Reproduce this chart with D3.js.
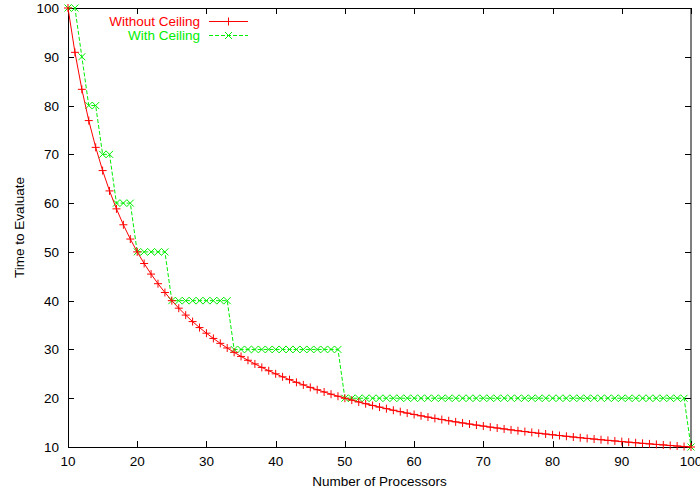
<!DOCTYPE html>
<html>
<head>
<meta charset="utf-8">
<script src="https://cdn.jsdelivr.net/npm/d3@7"></script>
<style>
  html, body { margin: 0; padding: 0; background: #fff; }
  svg { display: block; }
  text { font-family: "Liberation Sans", Arial, sans-serif; font-size: 13.5px; }
</style>
</head>
<body>
<svg id="chart" width="700" height="492"></svg>
<script>
// Number of processors (x values)
const processors = [10,11,12,13,14,15,16,17,18,19,20,21,22,23,24,25,26,27,28,29,30,
  31,32,33,34,35,36,37,38,39,40,41,42,43,44,45,46,47,48,49,50,51,52,53,54,55,56,57,58,59,60,
  61,62,63,64,65,66,67,68,69,70,71,72,73,74,75,76,77,78,79,80,81,82,83,84,85,86,87,88,89,90,
  91,92,93,94,95,96,97,98,99,100];

// Evaluation time without ceiling
const withoutCeiling = [100,90.91,83.33,76.92,71.43,66.67,62.5,58.82,55.56,52.63,50,
  47.62,45.45,43.48,41.67,40,38.46,37.04,35.71,34.48,33.33,
  32.26,31.25,30.3,29.41,28.57,27.78,27.03,26.32,25.64,25,
  24.39,23.81,23.26,22.73,22.22,21.74,21.28,20.83,20.41,20,
  19.61,19.23,18.87,18.52,18.18,17.86,17.54,17.24,16.95,16.67,
  16.39,16.13,15.87,15.63,15.38,15.15,14.93,14.71,14.49,14.29,
  14.08,13.89,13.7,13.51,13.33,13.16,12.99,12.82,12.66,12.5,
  12.35,12.2,12.05,11.9,11.76,11.63,11.49,11.36,11.24,11.11,
  10.99,10.87,10.75,10.64,10.53,10.42,10.31,10.2,10.1,10];

// Evaluation time with ceiling
const withCeiling = [100,100,90,80,80,70,70,60,60,60,50,
  50,50,50,50,40,40,40,40,40,40,
  40,40,40,30,30,30,30,30,30,30,
  30,30,30,30,30,30,30,30,30,20,
  20,20,20,20,20,20,20,20,20,20,
  20,20,20,20,20,20,20,20,20,20,
  20,20,20,20,20,20,20,20,20,20,
  20,20,20,20,20,20,20,20,20,20,
  20,20,20,20,20,20,20,20,20,10];

const xTicks = [10,20,30,40,50,60,70,80,90,100];
const yTicks = [10,20,30,40,50,60,70,80,90,100];
const seriesNames = ["Without Ceiling", "With Ceiling"];

(function () {
const svg = d3.select("#chart");
const pLeft = 68, pRight = 691, pTop = 8, pBottom = 447;

const x = d3.scaleLinear().domain([10, 100]).range([pLeft, pRight]);
const y = d3.scaleLinear().domain([10, 100]).range([pBottom, pTop]);

const tick = 6;
const frame = svg.append("g").attr("stroke", "#000").attr("stroke-width", 1).attr("fill", "none");

// tick marks on all four sides, pointing inward
xTicks.forEach(v => {
  const px = Math.round(x(v)) + 0.5;
  frame.append("line").attr("x1", px).attr("x2", px).attr("y1", pBottom).attr("y2", pBottom - tick);
  frame.append("line").attr("x1", px).attr("x2", px).attr("y1", pTop).attr("y2", pTop + tick);
});
yTicks.forEach(v => {
  const py = Math.round(y(v)) + 0.5;
  frame.append("line").attr("x1", pLeft).attr("x2", pLeft + tick).attr("y1", py).attr("y2", py);
  frame.append("line").attr("x1", pRight).attr("x2", pRight - tick).attr("y1", py).attr("y2", py);
});

// tick labels
svg.append("g").selectAll("text").data(xTicks).join("text")
  .attr("x", d => x(d)).attr("y", pBottom + 19)
  .attr("text-anchor", "middle").attr("fill", "#000").text(d => d);
svg.append("g").selectAll("text").data(yTicks).join("text")
  .attr("x", pLeft - 9).attr("y", d => y(d) + 5)
  .attr("text-anchor", "end").attr("fill", "#000").text(d => d);

// axis titles
svg.append("text").attr("x", (pLeft + pRight) / 2).attr("y", 486)
  .attr("text-anchor", "middle").attr("fill", "#000").text("Number of Processors");
svg.append("text").attr("transform", `translate(24,${(pTop + pBottom) / 2}) rotate(-90)`)
  .attr("text-anchor", "middle").attr("fill", "#000").text("Time to Evaluate");

const line = d3.line().x(d => x(d[0])).y(d => y(d[1]));
const red = "#ff0000", green = "#00ee00";

const dataA = processors.map((p, i) => [p, withoutCeiling[i]]);
const dataB = processors.map((p, i) => [p, withCeiling[i]]);

function plus(g, cx, cy, color) {
  g.append("path").attr("d", `M${cx - 4},${cy}H${cx + 4}M${cx},${cy - 4}V${cy + 4}`)
    .attr("stroke", color).attr("stroke-width", 1).attr("fill", "none");
}
function cross(g, cx, cy, color) {
  g.append("path").attr("d", `M${cx - 3.5},${cy - 3.5}L${cx + 3.5},${cy + 3.5}M${cx - 3.5},${cy + 3.5}L${cx + 3.5},${cy - 3.5}`)
    .attr("stroke", color).attr("stroke-width", 1).attr("fill", "none");
}

const plot = svg.append("g");
// with-ceiling series (dashed green)
plot.append("path").datum(dataB).attr("d", line)
  .attr("fill", "none").attr("stroke", green).attr("stroke-width", 1).attr("stroke-dasharray", "4,2");
const gB = plot.append("g");
dataB.forEach(d => cross(gB, x(d[0]), y(d[1]), green));

// without-ceiling series (solid red)
plot.append("path").datum(dataA).attr("d", line)
  .attr("fill", "none").attr("stroke", red).attr("stroke-width", 1);
const gA = plot.append("g");
dataA.forEach(d => plus(gA, x(d[0]), y(d[1]), red));

// border
frame.append("rect").attr("x", pLeft + 0.5).attr("y", pTop + 0.5)
  .attr("width", pRight - pLeft - 0.5).attr("height", pBottom - pTop);

// legend
const legend = svg.append("g");
[[seriesNames[0], red, 21, false], [seriesNames[1], green, 35, true]].forEach(([name, color, ly, dashed]) => {
  legend.append("text").attr("x", 200).attr("y", ly + 5).attr("text-anchor", "end")
    .attr("fill", color).text(name);
  legend.append("line").attr("x1", 209).attr("x2", 248).attr("y1", ly + 0.5).attr("y2", ly + 0.5)
    .attr("stroke", color).attr("stroke-width", 1).attr("stroke-dasharray", dashed ? "4,2" : null);
  if (dashed) cross(legend, 228.5, ly + 0.5, color); else plus(legend, 228.5, ly + 0.5, color);
});
})();
</script>
</body>
</html>
